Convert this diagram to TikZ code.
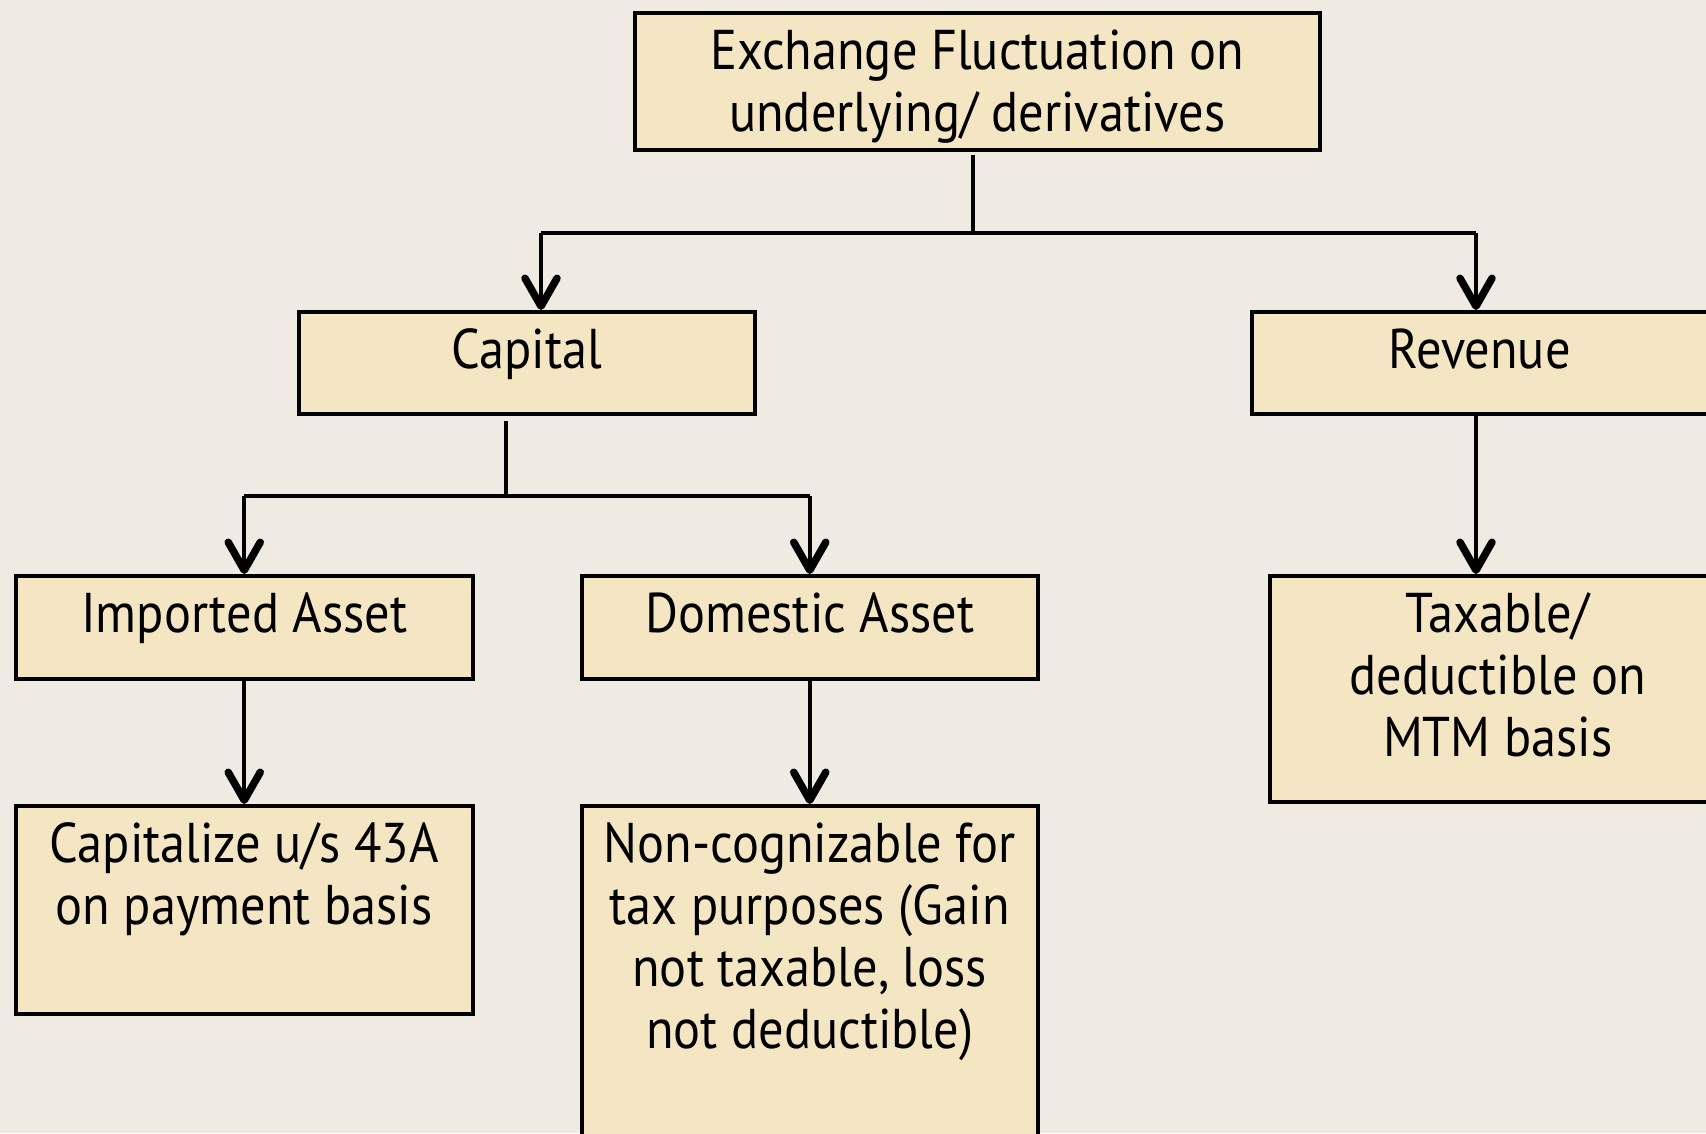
\documentclass[tikz,border=0pt]{standalone}
\usepackage{fontspec}
\setmainfont{PT Sans}[FakeStretch=0.9]
\usetikzlibrary{arrows.meta,calc}
\definecolor{paper}{RGB}{239,235,227}
\definecolor{boxfill}{RGB}{244,229,195}
% box content: fixed size, text hanging from the top edge
\newcommand\cellbox[3]{\parbox[t][#2][t]{#1}{\centering\rule{0pt}{57pt}#3\par}}

\begin{document}
\begin{tikzpicture}[x=1pt,y=-1pt,
  box/.style={draw=black, fill=boxfill, line width=3.5pt, inner sep=0pt,
    anchor=north west, font=\fontsize{56}{62}\selectfont},
  link/.style={line width=3.6pt},
  arr/.style={link, -{Straight Barb[length=28pt,width=32pt,line width=7.5pt,round]}},
]
\fill[paper] (0,0) rectangle (1706,1133);
\useasboundingbox (0,0) rectangle (1706,1133);
\begin{scope}
\clip (0,0) rectangle (1706,1133);

\node[box] (top) at (633,11) {\cellbox{685pt}{137pt}{Exchange Fluctuation on\\underlying/ derivatives}};
\node[box] (cap) at (297,310) {\cellbox{456pt}{102pt}{Capital}};
\node[box] (rev) at (1250,310) {\cellbox{456pt}{102pt}{Revenue}};
\node[box] (imp) at (14,574) {\cellbox{457pt}{103pt}{Imported Asset}};
\node[box] (dom) at (580,574) {\cellbox{456pt}{103pt}{Domestic Asset}};
\node[box] (tax) at (1268,574) {\cellbox{456pt}{226pt}{Taxable/\\deductible on\\MTM basis}};
\node[box] (cz) at (14,804) {\cellbox{457pt}{208pt}{Capitalize u/s 43A\\on payment basis}};
\node[box] (nc) at (580,804) {\cellbox{456pt}{360pt}{Non-cognizable for\\tax purposes (Gain\\not taxable, loss\\not deductible)}};

% first split
\coordinate (s1) at (973,155);
\coordinate (j1) at (973,233);
\coordinate (l1) at (541,233);
\coordinate (r1) at (1476,233);
\draw[link] (s1) -- (j1);
\draw[link] (l1) -- (r1);
\draw[arr] (l1) -- (l1 |- cap.north);
\draw[arr] (r1) -- (r1 |- rev.north);

% capital split
\coordinate (s2) at (506,421);
\coordinate (j2) at (506,496);
\draw[link] (s2) -- (j2);
\draw[link] (imp.north |- j2) -- (dom.north |- j2);
\draw[arr] (imp.north |- j2) -- (imp.north);
\draw[arr] (dom.north |- j2) -- (dom.north);

% single steps
\draw[arr] (imp.south) -- (cz.north);
\draw[arr] (dom.south) -- (nc.north);
\draw[arr] (r1 |- rev.south) -- (r1 |- tax.north);
\end{scope}
\end{tikzpicture}
\end{document}
